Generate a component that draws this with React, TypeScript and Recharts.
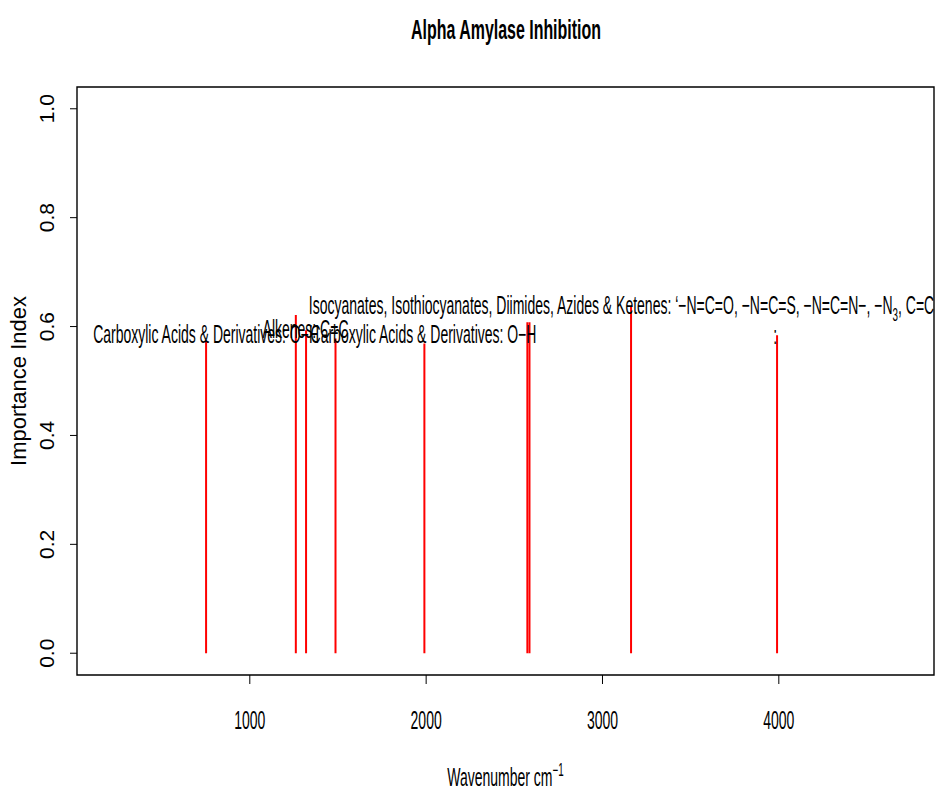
import React from 'react';
import { ComposedChart, Line, Scatter, XAxis, YAxis, ReferenceArea } from 'recharts';

// stick spectrum: wavenumber (cm^-1) and importance index of each band
const wavenumbers = [752, 1261, 1319, 1486, 1990, 2574, 2586, 3162, 3990];
const importance = [0.573, 0.621, 0.593, 0.578, 0.569, 0.608, 0.608, 0.636, 0.584];

// band annotations (centre position in data units)
const labelTexts = [
  'Carboxylic Acids & Derivatives: O\u2212H',
  'Alkenes: C=C',
  'Carboxylic Acids & Derivatives: O\u2212H',
  'Isocyanates, Isothiocyanates, Diimides, Azides & Ketenes: \u2018\u2212N=C=O, \u2212N=C=S, \u2212N=C=N\u2212, \u2212N_{3}, C=C=O',
  ':',
];
const labelX = [752, 1316, 1985, 3162, 3979];
const labelY = [0.585, 0.593, 0.584, 0.637, 0.583];

const xTicks = [1000, 2000, 3000, 4000];
const yTicks = [0, 0.2, 0.4, 0.6, 0.8, 1.0];

const X_DOMAIN: [number, number] = [20, 4880];
const Y_DOMAIN: [number, number] = [-0.04, 1.04];

const FONT = '"Liberation Sans", Arial, Helvetica, sans-serif';
const NARROW = 0.56;
const TEXT_SIZE = 25;

const sticks = wavenumbers.map((x, i) => [
  { x, y: 0 },
  { x, y: importance[i] },
]);

const labels = labelTexts.map((text, i) => ({ x: labelX[i], y: labelY[i], text }));

// renders "_{..}" as subscript and "^{..}" as superscript
const rich = (text: string, size: number) => {
  const parts = text.split(/([_^]\{[^}]*\})/).filter((p) => p.length > 0);
  const out: React.ReactNode[] = [];
  let shift = 0;
  parts.forEach((p, i) => {
    if (p.startsWith('_{') || p.startsWith('^{')) {
      const d = p[0] === '_' ? size * 0.28 : -size * 0.42;
      out.push(
        <tspan key={i} dy={d - shift} fontSize={size * 0.7}>
          {p.slice(2, -1)}
        </tspan>
      );
      shift = d;
    } else {
      out.push(
        <tspan key={i} dy={-shift}>
          {p}
        </tspan>
      );
      shift = 0;
    }
  });
  return out;
};

const XTick = (props: any) => {
  const { x, y, payload } = props;
  return (
    <text
      transform={`translate(${x},${y + 43}) scale(${NARROW},1)`}
      textAnchor="middle"
      fontSize={TEXT_SIZE}
      fill="#000"
      fontFamily={FONT}
    >
      {payload.value}
    </text>
  );
};

const YTick = (props: any) => {
  const { x, y, payload } = props;
  return (
    <text
      transform={`translate(${x - 14},${y}) rotate(-90)`}
      textAnchor="middle"
      fontSize={21}
      fill="#000"
      fontFamily={FONT}
    >
      {Number(payload.value).toFixed(1)}
    </text>
  );
};

const AnnotationMark = (props: any) => {
  const { cx, cy, payload } = props;
  if (cx == null || cy == null) return null;
  return (
    <text
      transform={`translate(${cx},${cy + 8}) scale(${NARROW},1)`}
      textAnchor="middle"
      fontSize={TEXT_SIZE}
      fill="#000"
      fontFamily={FONT}
    >
      {rich(payload.text, TEXT_SIZE)}
    </text>
  );
};

export default function App() {
  return (
    <div style={{ position: 'relative', width: 935, height: 791, background: '#fff', overflow: 'hidden' }}>
      <style>{'body{margin:0}'}</style>
      <ComposedChart width={935} height={791} margin={{ top: 87, right: 1, bottom: 56, left: 7 }}>
        <XAxis
          dataKey="x"
          type="number"
          domain={X_DOMAIN}
          ticks={xTicks}
          interval={0}
          allowDataOverflow
          axisLine={false}
          tickLine={{ stroke: '#000', strokeWidth: 1 }}
          tickSize={9}
          tickMargin={2}
          height={60}
          tick={<XTick />}
          label={(p: any) => {
            const vb = p.viewBox;
            return (
              <text
                transform={`translate(${vb.x + vb.width / 2},${vb.y + 111}) scale(${NARROW},1)`}
                textAnchor="middle"
                fontSize={TEXT_SIZE}
                fill="#000"
                fontFamily={FONT}
              >
                {rich('Wavenumber cm^{\u22121}', TEXT_SIZE)}
              </text>
            );
          }}
        />
        <YAxis
          dataKey="y"
          type="number"
          domain={Y_DOMAIN}
          ticks={yTicks}
          interval={0}
          allowDataOverflow
          axisLine={false}
          tickLine={{ stroke: '#000', strokeWidth: 1 }}
          tickSize={7}
          tickMargin={2}
          width={70}
          tick={<YTick />}
          label={(p: any) => {
            const vb = p.viewBox;
            return (
              <text
                transform={`translate(${vb.x + 19},${vb.y + vb.height / 2}) rotate(-90)`}
                textAnchor="middle"
                fontSize={22}
                fill="#000"
                fontFamily={FONT}
              >
                Importance Index
              </text>
            );
          }}
        />
        <ReferenceArea
          x1={X_DOMAIN[0]}
          x2={X_DOMAIN[1]}
          y1={Y_DOMAIN[0]}
          y2={Y_DOMAIN[1]}
          fill="none"
          stroke="#000"
          strokeWidth={1.4}
          ifOverflow="visible"
        />
        {sticks.map((d, i) => (
          <Line
            key={`stick-${i}`}
            data={d}
            dataKey="y"
            stroke="#ff0000"
            strokeWidth={2}
            dot={false}
            activeDot={false}
            isAnimationActive={false}
          />
        ))}
        <Scatter data={labels} dataKey="y" shape={<AnnotationMark />} isAnimationActive={false} />
      </ComposedChart>
      <svg width={935} height={60} style={{ position: 'absolute', left: 0, top: 0 }}>
        <text
          transform={`translate(506,39) scale(0.57,1)`}
          textAnchor="middle"
          fontSize={28}
          fontWeight="bold"
          fill="#000"
          fontFamily={FONT}
        >
          Alpha Amylase Inhibition
        </text>
      </svg>
    </div>
  );
}
